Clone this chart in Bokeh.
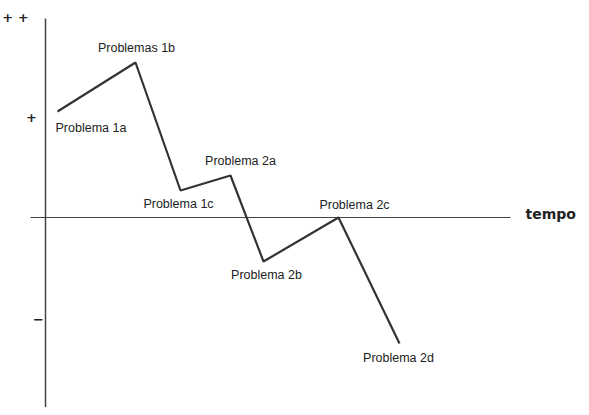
from bokeh.plotting import figure
from bokeh.models import Range1d, ColumnDataSource
from bokeh.core.properties import value
from bokeh.embed import file_html
from bokeh.resources import INLINE

# data: time (arbitrary units) and level (+ = 1, ++ = 2, - = -1)
labels = ["Problema 1a", "Problemas 1b", "Problema 1c", "Problema 2a",
          "Problema 2b", "Problema 2c", "Problema 2d"]
times = [12, 90, 135, 185, 218, 293, 354]
levels = [1.06, 1.55, 0.27, 0.42, -0.44, 0.0, -1.26]
tick_labels = ["+ +", "+", "\u2212"]
tick_levels = [2.0, 1.0, -1.02]
axis_label = "tempo"

# label placement (layout only)
lab_dx = [-2, 1, -2, 10, 3, 16, -1]
lab_dy = [-0.16, 0.15, -0.13, 0.15, -0.13, 0.13, -0.14]
lab_align = ["left", "center", "center", "center", "center", "center", "center"]

W, H = 581, 407
p = figure(width=W, height=H, output_backend="svg", toolbar_location=None,
           x_range=Range1d(-45, W - 45), y_range=Range1d((217 - H) / 100, 2.17),
           min_border=0, outline_line_color=None)
p.axis.visible = False
p.grid.visible = False
p.background_fill_color = "white"
p.border_fill_color = "white"

# axes drawn as lines
p.line([0, 0], [1.99, -1.95], line_color="#444444", line_width=1.5)
p.line([-15, 465], [0, 0], line_color="#444444", line_width=1.2)

src = ColumnDataSource(dict(x=times, y=levels))
p.line("x", "y", source=src, line_color="#333333", line_width=2.2)

lsrc = ColumnDataSource(dict(
    x=[t + d for t, d in zip(times, lab_dx)],
    y=[l + d for l, d in zip(levels, lab_dy)],
    text=labels, align=lab_align))
p.text("x", "y", text="text", source=lsrc, text_align="align",
       text_baseline="middle", text_font=value("Liberation Sans"),
       text_font_size="12.5px", text_color="#222222")

p.text([-30, -14, -7], tick_levels, text=tick_labels, text_align="center",
       text_baseline="middle", text_font=value("DejaVu Sans"),
       text_font_style="bold", text_font_size="13px", text_color="#222222")

p.text([480], [0.04], text=[axis_label], text_align="left",
       text_baseline="middle", text_font=value("DejaVu Sans"),
       text_font_style="bold", text_font_size="14px", text_color="#222222")

open("out.html", "w").write(file_html(p, INLINE))
